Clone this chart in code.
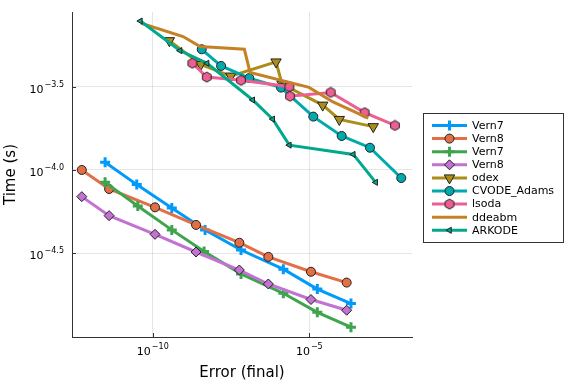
<!DOCTYPE html>
<html>
<head>
<meta charset="utf-8">
<script src="https://cdn.jsdelivr.net/npm/chart.js@4/dist/chart.umd.min.js"></script>
<style>
  html, body { margin: 0; padding: 0; background: #fff; }
  #wrap { width: 576px; height: 384px; }
</style>
</head>
<body>
<div id="wrap"><canvas id="c" width="576" height="384"></canvas></div>
<script>
// === DATA (log-log) ===
const seriesNames = ['Vern7', 'Vern8', 'Vern7', 'Vern8', 'odex', 'CVODE_Adams', 'lsoda', 'ddeabm', 'ARKODE'];

const vern7aErr  = [3.0e-12, 3.08e-11, 4.05e-10, 4.68e-9, 6.59e-8, 1.48e-6, 1.80e-5, 2.14e-4];
const vern7aTime = [1.112e-4, 8.17e-5, 5.92e-5, 4.37e-5, 3.31e-5, 2.54e-5, 1.93e-5, 1.58e-5];
const vern8aErr  = [5.41e-13, 4.03e-12, 1.18e-10, 2.41e-9, 5.82e-8, 4.91e-7, 1.13e-5, 1.56e-4];
const vern8aTime = [1.00e-4, 7.69e-5, 5.97e-5, 4.68e-5, 3.66e-5, 3.01e-5, 2.45e-5, 2.11e-5];
const vern7bErr  = [3.0e-12, 3.32e-11, 4.05e-10, 4.35e-9, 6.59e-8, 1.48e-6, 1.80e-5, 2.14e-4];
const vern7bTime = [8.43e-5, 6.08e-5, 4.37e-5, 3.24e-5, 2.38e-5, 1.82e-5, 1.40e-5, 1.14e-5];
const vern8bErr  = [5.41e-13, 4.03e-12, 1.18e-10, 2.41e-9, 5.82e-8, 4.91e-7, 1.13e-5, 1.56e-4];
const vern8bTime = [6.92e-5, 5.32e-5, 4.11e-5, 3.22e-5, 2.51e-5, 2.07e-5, 1.67e-5, 1.44e-5];
const odexErr    = [3.39e-10, 3.41e-9, 3.09e-8, 8.65e-7, 1.34e-6, 2.68e-5, 9.08e-5, 1.10e-3];
const odexTime   = [5.97e-4, 4.30e-4, 3.66e-4, 4.45e-4, 3.28e-4, 2.45e-4, 2.01e-4, 1.82e-4];
const cvodeErr   = [3.66e-9, 1.52e-8, 1.21e-7, 1.25e-6, 1.34e-5, 1.08e-4, 8.67e-4, 8.65e-3];
const cvodeTime  = [5.30e-4, 4.21e-4, 3.56e-4, 3.12e-4, 2.09e-4, 1.60e-4, 1.36e-4, 8.95e-5];
const lsodaErr   = [1.84e-9, 5.30e-9, 6.59e-8, 2.30e-6, 2.42e-6, 4.82e-5, 5.87e-4, 5.45e-3];
const lsodaTime  = [4.37e-4, 3.61e-4, 3.45e-4, 3.16e-4, 2.77e-4, 2.92e-4, 2.21e-4, 1.85e-4];
const ddeabmErr  = [4.23e-11, 9.27e-10, 3.24e-9, 8.41e-8, 1.28e-7, 9.77e-6, 5.71e-5, 7.66e-4];
const ddeabmTime = [7.59e-4, 6.32e-4, 5.51e-4, 5.30e-4, 3.85e-4, 3.13e-4, 2.56e-4, 2.05e-4];
const arkodeErr  = [4.02e-11, 7.45e-10, 5.42e-9, 1.56e-7, 6.78e-7, 2.30e-6, 2.54e-4, 1.32e-3];
const arkodeTime = [7.83e-4, 5.20e-4, 4.37e-4, 2.63e-4, 2.02e-4, 1.41e-4, 1.24e-4, 8.43e-5];

const xTicks = [1e-10, 1e-5];
const xTickExp = ['\u221210', '\u22125'];
const yTicks = [Math.pow(10, -4.5), 1e-4, Math.pow(10, -3.5)];
const yTickExp = ['\u22124.5', '\u22124.0', '\u22123.5'];

// === STYLE ===
const colors = ['#009AFA', '#E36F47', '#3EA44E', '#C371D2', '#AC8D18', '#00A9AD', '#ED5E93', '#C68125', '#00A98D'];
const FONT = '"DejaVu Sans", "Liberation Sans", sans-serif';

function hexCanvas(fill, r) {
    const s = Math.ceil(r * 2 + 2);
    const cv = document.createElement('canvas');
    cv.width = s; cv.height = s;
    const g = cv.getContext('2d');
    g.beginPath();
    for (let i = 0; i < 6; i++) {
        const a = Math.PI / 6 + i * Math.PI / 3;
        const px = s / 2 + r * Math.cos(a), py = s / 2 + r * Math.sin(a);
        if (i === 0) g.moveTo(px, py); else g.lineTo(px, py);
    }
    g.closePath();
    g.fillStyle = fill; g.fill();
    g.lineWidth = 1; g.strokeStyle = '#222'; g.stroke();
    return cv;
}
const lsodaMarker = hexCanvas(colors[6], 5);

const markers = [
    { style: 'cross', r: 5, rot: 0 },
    { style: 'circle', r: 4.5, rot: 0 },
    { style: 'cross', r: 5, rot: 0 },
    { style: 'rectRot', r: 5, rot: 0 },
    { style: 'triangle', r: 6, rot: 180 },
    { style: 'circle', r: 4.5, rot: 0 },
    { style: lsodaMarker, r: 5, rot: 0, name: 'hex' },
    { style: 'none', r: 0, rot: 0 },
    { style: 'triangle', r: 3.5, rot: -90 }
];

const errs = [vern7aErr, vern8aErr, vern7bErr, vern8bErr, odexErr, cvodeErr, lsodaErr, ddeabmErr, arkodeErr];
const times = [vern7aTime, vern8aTime, vern7bTime, vern8bTime, odexTime, cvodeTime, lsodaTime, ddeabmTime, arkodeTime];

const datasets = seriesNames.map((name, i) => {
    const m = markers[i];
    const isCross = m.style === 'cross';
    return {
        label: name,
        data: errs[i].map((e, k) => ({ x: e, y: times[i][k] })),
        showLine: true,
        borderColor: colors[i],
        borderWidth: 3,
        backgroundColor: colors[i],
        pointStyle: m.style === 'none' ? 'circle' : m.style,
        pointRadius: m.r,
        pointRotation: m.rot,
        pointBackgroundColor: colors[i],
        pointBorderColor: isCross ? colors[i] : '#222',
        pointBorderWidth: isCross ? 3 : 1,
        order: seriesNames.length - i
    };
});

// === OVERLAY: ticks labels, axis titles, legend ===
function drawPow(ctx, exp, x, y, align) {
    ctx.font = '11px ' + FONT;
    const wb = ctx.measureText('10').width;
    ctx.font = '8px ' + FONT;
    const we = ctx.measureText(exp).width;
    const total = wb + 1 + we;
    const x0 = align === 'center' ? x - total / 2 : x - total;
    ctx.textAlign = 'left';
    ctx.textBaseline = 'alphabetic';
    ctx.fillStyle = '#000';
    ctx.font = '11px ' + FONT;
    ctx.fillText('10', x0, y);
    ctx.font = '8px ' + FONT;
    ctx.fillText(exp, x0 + wb + 1, y - 6);
}

function drawLegendMarker(ctx, i, x, y) {
    const m = markers[i];
    if (m.style === 'none') return;
    ctx.save();
    ctx.fillStyle = colors[i];
    ctx.strokeStyle = '#222';
    ctx.lineWidth = 1;
    ctx.beginPath();
    if (m.style === 'circle') {
        ctx.arc(x, y, m.r, 0, Math.PI * 2);
        ctx.fill(); ctx.stroke();
    } else if (m.style === 'cross') {
        ctx.strokeStyle = colors[i]; ctx.lineWidth = 3;
        ctx.moveTo(x - m.r, y); ctx.lineTo(x + m.r, y);
        ctx.moveTo(x, y - m.r); ctx.lineTo(x, y + m.r);
        ctx.stroke();
    } else if (m.style === 'rectRot') {
        ctx.moveTo(x, y - m.r); ctx.lineTo(x + m.r, y); ctx.lineTo(x, y + m.r); ctx.lineTo(x - m.r, y);
        ctx.closePath(); ctx.fill(); ctx.stroke();
    } else if (m.style === 'triangle') {
        const rad0 = m.rot * Math.PI / 180;
        for (let k = 0; k < 3; k++) {
            const a = rad0 + k * 2 * Math.PI / 3;
            const px = x + Math.sin(a) * m.r, py = y - Math.cos(a) * m.r;
            if (k === 0) ctx.moveTo(px, py); else ctx.lineTo(px, py);
        }
        ctx.closePath(); ctx.fill(); ctx.stroke();
    } else {
        ctx.drawImage(m.style, x - m.style.width / 2, y - m.style.height / 2);
    }
    ctx.restore();
}

const overlay = {
    id: 'overlay',
    afterDraw(chart) {
        const ctx = chart.ctx;
        const xs = chart.scales.x, ys = chart.scales.y;
        const area = chart.chartArea;
        ctx.save();

        // inner tick marks
        ctx.strokeStyle = '#333';
        ctx.lineWidth = 1;
        xTicks.forEach(v => {
            const px = Math.round(xs.getPixelForValue(v)) + 0.5;
            ctx.beginPath(); ctx.moveTo(px, area.bottom); ctx.lineTo(px, area.bottom - 4); ctx.stroke();
        });
        yTicks.forEach(v => {
            const py = Math.round(ys.getPixelForValue(v)) + 0.5;
            ctx.beginPath(); ctx.moveTo(area.left, py); ctx.lineTo(area.left + 4, py); ctx.stroke();
        });

        // tick labels
        xTicks.forEach((v, k) => drawPow(ctx, xTickExp[k], xs.getPixelForValue(v), area.bottom + 18, 'center'));
        yTicks.forEach((v, k) => drawPow(ctx, yTickExp[k], area.left - 8, ys.getPixelForValue(v) + 6, 'right'));

        // axis titles
        ctx.fillStyle = '#000';
        ctx.font = '15px ' + FONT;
        ctx.textAlign = 'center';
        ctx.textBaseline = 'alphabetic';
        ctx.fillText('Error (final)', (area.left + area.right) / 2, 377);
        ctx.save();
        ctx.translate(15, (area.top + area.bottom) / 2);
        ctx.rotate(-Math.PI / 2);
        ctx.fillText('Time (s)', 0, 0);
        ctx.restore();

        // legend
        const lx = 423.5, ly = 113.5, lw = 140, lh = 129;
        ctx.fillStyle = '#fff';
        ctx.fillRect(lx, ly, lw, lh);
        ctx.strokeStyle = '#333';
        ctx.lineWidth = 1;
        ctx.strokeRect(lx, ly, lw, lh);
        seriesNames.forEach((name, i) => {
            const y = 125.5 + i * 13.1;
            ctx.strokeStyle = colors[i];
            ctx.lineWidth = 3;
            ctx.beginPath(); ctx.moveTo(432, y); ctx.lineTo(467, y); ctx.stroke();
            drawLegendMarker(ctx, i, 449.5, y);
            ctx.fillStyle = '#000';
            ctx.font = '11px ' + FONT;
            ctx.textAlign = 'left';
            ctx.textBaseline = 'middle';
            ctx.fillText(name, 472, y + 0.5);
        });
        ctx.restore();
    }
};

new window.Chart(document.getElementById('c').getContext('2d'), {
    type: 'scatter',
    data: { datasets },
    options: {
        responsive: false,
        animation: false,
        events: [],
        layout: { padding: { left: 0, top: 12, right: 164, bottom: 0 } },
        plugins: { legend: { display: false }, tooltip: { enabled: false } },
        scales: {
            x: {
                type: 'logarithmic',
                min: 2.63e-13,
                max: 1.905e-2,
                afterBuildTicks: s => { s.ticks = xTicks.map(v => ({ value: v })); },
                afterFit: s => { s.height = 47; },
                ticks: { display: false },
                grid: { color: 'rgba(0,0,0,0.1)', lineWidth: 1, drawTicks: false },
                border: { display: true, color: '#333', width: 1 }
            },
            y: {
                type: 'logarithmic',
                min: 9.95e-6,
                max: 8.87e-4,
                afterBuildTicks: s => { s.ticks = yTicks.map(v => ({ value: v })); },
                afterFit: s => { s.width = 72; },
                ticks: { display: false },
                grid: { color: 'rgba(0,0,0,0.1)', lineWidth: 1, drawTicks: false },
                border: { display: true, color: '#333', width: 1 }
            }
        }
    },
    plugins: [overlay]
});
</script>
</body>
</html>
